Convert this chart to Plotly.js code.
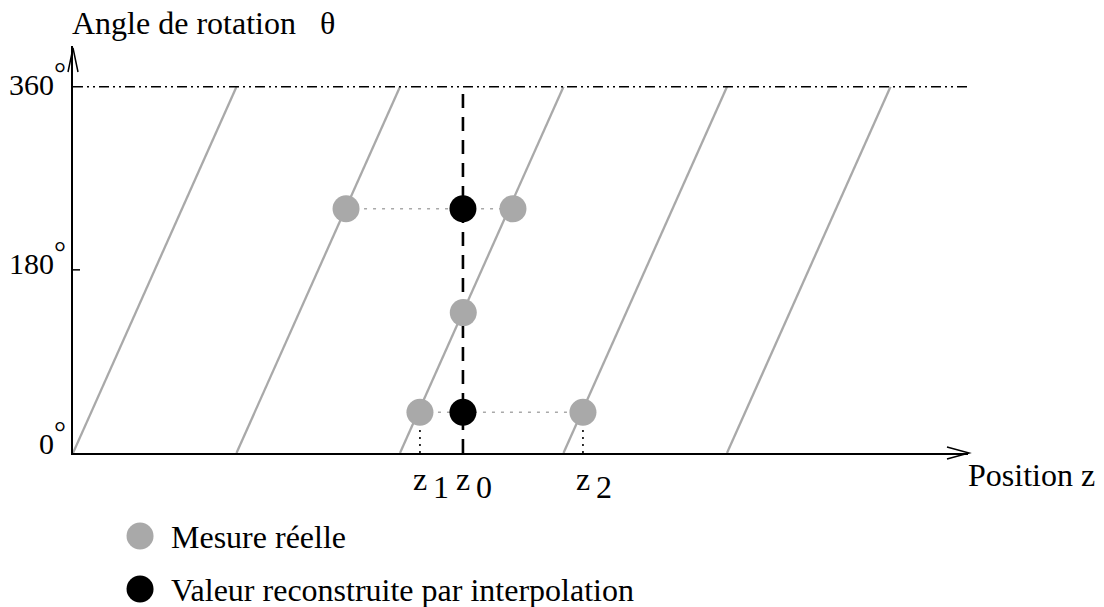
<!DOCTYPE html>
<html>
<head>
<meta charset="utf-8">
<script src="https://cdn.plot.ly/plotly-3.0.1.min.js"></script>
<style>html,body{margin:0;padding:0;background:#fff;}#chart{width:1104px;height:607px;}</style>
</head>
<body>
<div id="chart"></div>
<script>
// ---- data ----
const helixStartZ = [0, 10, 20, 30, 40];      // z where each helix turn starts (theta = 0)
const helixEndZ   = [10, 20, 30, 40, 50];     // z where each helix turn ends (theta = 360)
const helixTheta  = [0, 360];
const measuredZ     = [16.70, 26.91, 23.87, 21.22, 31.19];
const measuredTheta = [240, 240, 138, 40, 40];
const reconZ     = [23.85, 23.85];
const reconTheta = [240, 40];
const tickVals = [0, 180, 360];
const tickText = ['0', '180', '360'];
const zLabelNames = ['z', 'z', 'z'];
const zLabelSubs  = ['1', '0', '2'];
const legendLabels = ['Mesure réelle', 'Valeur reconstruite par interpolation'];
const xTitle = 'Position z';
const yTitle = 'Angle de rotation\u00a0\u00a0\u00a0θ';

const xRange = [0, 54.74];
const yRange = [0, 400];
const GRAY = '#a9a9a9';
const FONT = 'Liberation Serif, Times New Roman, serif';
const FS = 32;
const FS_TICK = 30;

const traces = [];
// helix lines
helixStartZ.forEach((z0, i) => {
  traces.push({x: [z0, helixEndZ[i]], y: helixTheta, mode: 'lines',
    line: {color: GRAY, width: 2.3}, hoverinfo: 'skip', showlegend: false});
});
// 360 dash-dot-dot line
traces.push({x: xRange, y: [tickVals[2], tickVals[2]], mode: 'lines',
  line: {color: '#000', width: 1.4, dash: '10px,4px,2px,4px,2px,4px'}, showlegend: false, hoverinfo: 'skip'});
// gray dotted horizontal connections
traces.push({x: [measuredZ[0], measuredZ[1]], y: [measuredTheta[0], measuredTheta[1]], mode: 'lines',
  line: {color: GRAY, width: 1.5, dash: '3px,6px'}, showlegend: false, hoverinfo: 'skip'});
traces.push({x: [measuredZ[3], measuredZ[4]], y: [measuredTheta[3], measuredTheta[4]], mode: 'lines',
  line: {color: GRAY, width: 1.5, dash: '3px,6px'}, showlegend: false, hoverinfo: 'skip'});
// black dotted verticals down to axis
[3, 4].forEach(k => {
  traces.push({x: [measuredZ[k], measuredZ[k]], y: [0, measuredTheta[k]], mode: 'lines',
    line: {color: '#000', width: 1.6, dash: '2px,5px'}, showlegend: false, hoverinfo: 'skip'});
});
// z0 dashed vertical
traces.push({x: [reconZ[0], reconZ[0]], y: [tickVals[0], tickVals[2]], mode: 'lines',
  line: {color: '#000', width: 2.6, dash: '14px,9px'}, showlegend: false, hoverinfo: 'skip'});
// dots
traces.push({x: measuredZ, y: measuredTheta, mode: 'markers', name: legendLabels[0],
  marker: {color: GRAY, size: 27, line: {width: 0}}, showlegend: false});
traces.push({x: reconZ, y: reconTheta, mode: 'markers', name: legendLabels[1],
  marker: {color: '#000', size: 27, line: {width: 0}}, showlegend: false});

const annotations = [];
const baseAnn = {showarrow: false, font: {family: FONT, size: FS, color: '#000'}, borderpad: 0, borderwidth: 0};
const tickFont = {family: FONT, size: FS_TICK, color: '#000'};
// tick labels
const tickShift = [10, 6, 2];
tickVals.forEach((v, i) => {
  annotations.push(Object.assign({}, baseAnn, {xref: 'paper', yref: 'y', x: 0, y: v, text: tickText[i],
    font: tickFont, xanchor: 'right', yanchor: 'middle', xshift: -19, yshift: tickShift[i]}));
  annotations.push(Object.assign({}, baseAnn, {xref: 'paper', yref: 'y', x: 0, y: v, text: '°',
    font: tickFont, xanchor: 'left', yanchor: 'middle', xshift: -19, yshift: tickShift[i] + 12}));
});
// z labels
const zPos = [measuredZ[3], reconZ[0], measuredZ[4]];
zPos.forEach((z, i) => {
  annotations.push(Object.assign({}, baseAnn, {xref: 'x', yref: 'y', x: z, y: 0, text: zLabelNames[i],
    xanchor: 'left', yanchor: 'middle', xshift: -7, yshift: -26}));
  annotations.push(Object.assign({}, baseAnn, {xref: 'x', yref: 'y', x: z, y: 0, text: zLabelSubs[i],
    xanchor: 'left', yanchor: 'middle', xshift: 13, yshift: -34}));
});
// axis titles
annotations.push(Object.assign({}, baseAnn, {xref: 'paper', yref: 'paper', x: 0, y: 1, text: yTitle,
  xanchor: 'left', yanchor: 'middle', xshift: -1, yshift: 23}));
annotations.push(Object.assign({}, baseAnn, {xref: 'paper', yref: 'paper', x: 1, y: 0, text: xTitle,
  xanchor: 'left', yanchor: 'middle', xshift: 0, yshift: -22}));
// legend
const legY = [-0.2039, -0.3342];
const legColors = [GRAY, '#000'];
const shapes = [];
legendLabels.forEach((lab, i) => {
  annotations.push(Object.assign({}, baseAnn, {xref: 'paper', yref: 'paper', x: 0.1095, y: legY[i], text: lab,
    xanchor: 'left', yanchor: 'middle', yshift: -1}));
  shapes.push({type: 'circle', xref: 'paper', yref: 'paper', xsizemode: 'pixel', ysizemode: 'pixel',
    xanchor: 0.0749, yanchor: legY[i], x0: -13.5, x1: 13.5, y0: -13.5, y1: 13.5,
    fillcolor: legColors[i], line: {width: 0}});
});
// axis arrows
shapes.push({type: 'path', xref: 'paper', yref: 'paper', xsizemode: 'pixel', ysizemode: 'pixel',
  xanchor: 0, yanchor: 1, path: 'M-5,-26 L0,-2 L5,-26', line: {color: '#000', width: 1.5}});
shapes.push({type: 'path', xref: 'paper', yref: 'paper', xsizemode: 'pixel', ysizemode: 'pixel',
  xanchor: 1, yanchor: 0, path: 'M-21,6 L1,0 L-21,-6', line: {color: '#000', width: 1.5}});
// tick at 180
shapes.push({type: 'path', xref: 'x', yref: 'y', xsizemode: 'pixel', ysizemode: 'pixel',
  xanchor: 0, yanchor: tickVals[1], path: 'M-7,0 L7,0', line: {color: '#000', width: 1.5}});

const layout = {
  width: 1104, height: 607,
  margin: {l: 73, r: 136, t: 46, b: 154},
  paper_bgcolor: '#fff', plot_bgcolor: '#fff',
  showlegend: false,
  font: {family: FONT, size: FS, color: '#000'},
  xaxis: {range: xRange, showgrid: false, zeroline: false, showticklabels: false, ticks: '',
    showline: true, linecolor: '#000', linewidth: 1.6, fixedrange: true},
  yaxis: {range: yRange, showgrid: false, zeroline: false, showticklabels: false, ticks: '',
    showline: true, linecolor: '#000', linewidth: 1.6, fixedrange: true},
  annotations: annotations,
  shapes: shapes
};
Plotly.newPlot('chart', traces, layout, {displayModeBar: false, staticPlot: true});
</script>
</body>
</html>
